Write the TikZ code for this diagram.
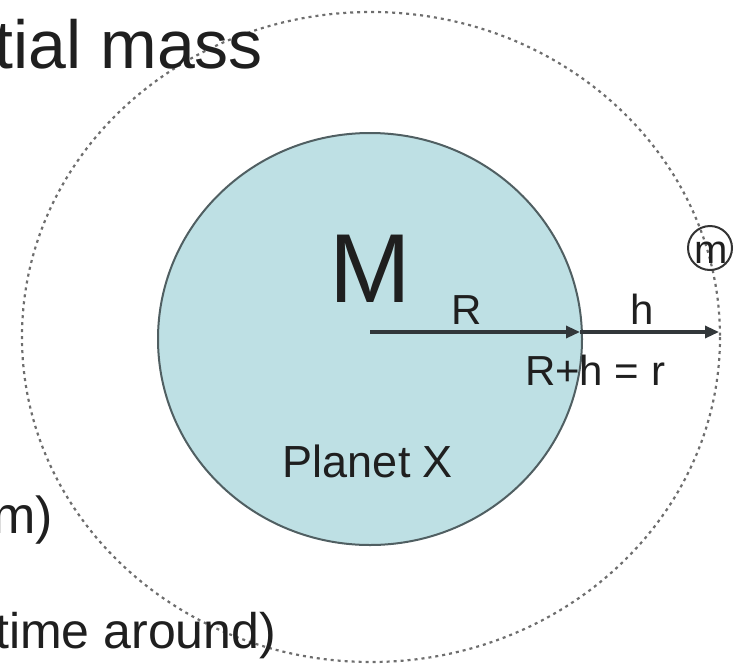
\documentclass[tikz,border=0pt]{standalone}
\usepackage{fontspec}
\setmainfont{Liberation Sans}
\usetikzlibrary{arrows.meta}
\definecolor{planetfill}{RGB}{190,224,228}
\definecolor{planetline}{RGB}{80,95,98}
\definecolor{arrowgray}{RGB}{50,55,58}
\definecolor{orbitgray}{RGB}{110,110,110}
\tikzset{
  txt/.style={inner sep=0pt, outer sep=0pt, text=black!88},
  vec/.style={draw=arrowgray, line width=3.2pt, -{Triangle[length=14pt,width=12pt]}},
  orbit/.style={draw=orbitgray, line width=2.2pt, dash pattern=on 3pt off 4pt},
  planet/.style={draw=planetline, line width=2pt, fill=planetfill},
}
\newcommand{\fs}[1]{\fontsize{#1}{#1}\selectfont}
\begin{document}
\begin{tikzpicture}[x=1pt,y=-1pt]
\useasboundingbox (0,0) rectangle (738,670);
% planet
\path[planet] (370,339) ellipse [x radius=212, y radius=206];
% orbit
\path[orbit] (371,337) ellipse [x radius=349, y radius=325];
% small mass
\node[draw=black!80, line width=2pt, circle, minimum size=44pt, inner sep=0pt] (mcirc) at (710,248) {};
\node[txt, anchor=base] (mlab) at (711,263) {\fs{40}m};
% arrows
\coordinate (c) at (370,332);
\coordinate (e) at (580,332);
\coordinate (o) at (719,332);
\draw[vec] (c) -- (e);
\draw[vec] (e) -- (o);
% labels
\node[txt, anchor=base] (Mlab) at (370,302) {\fs{98}M};
\node[txt, anchor=base] (Rlab) at (467,324) {\fs{42}R};
\node[txt, anchor=base] (hlab) at (642,324) {\fs{42}h};
\node[txt, anchor=base west] (rlab) at (525,385) {\fs{42}R+h = r};
\node[txt, anchor=base] (plab) at (368,477) {\fs{45}Planet X};
% cut-off side texts
\node[txt, anchor=base east] (t1) at (263,68) {\fs{68}tial mass};
\node[txt, anchor=base east] (t2) at (53,533) {\fs{52}m)};
\node[txt, anchor=base east] (t3) at (276,648) {\fs{50}time around)};
\end{tikzpicture}
\end{document}
